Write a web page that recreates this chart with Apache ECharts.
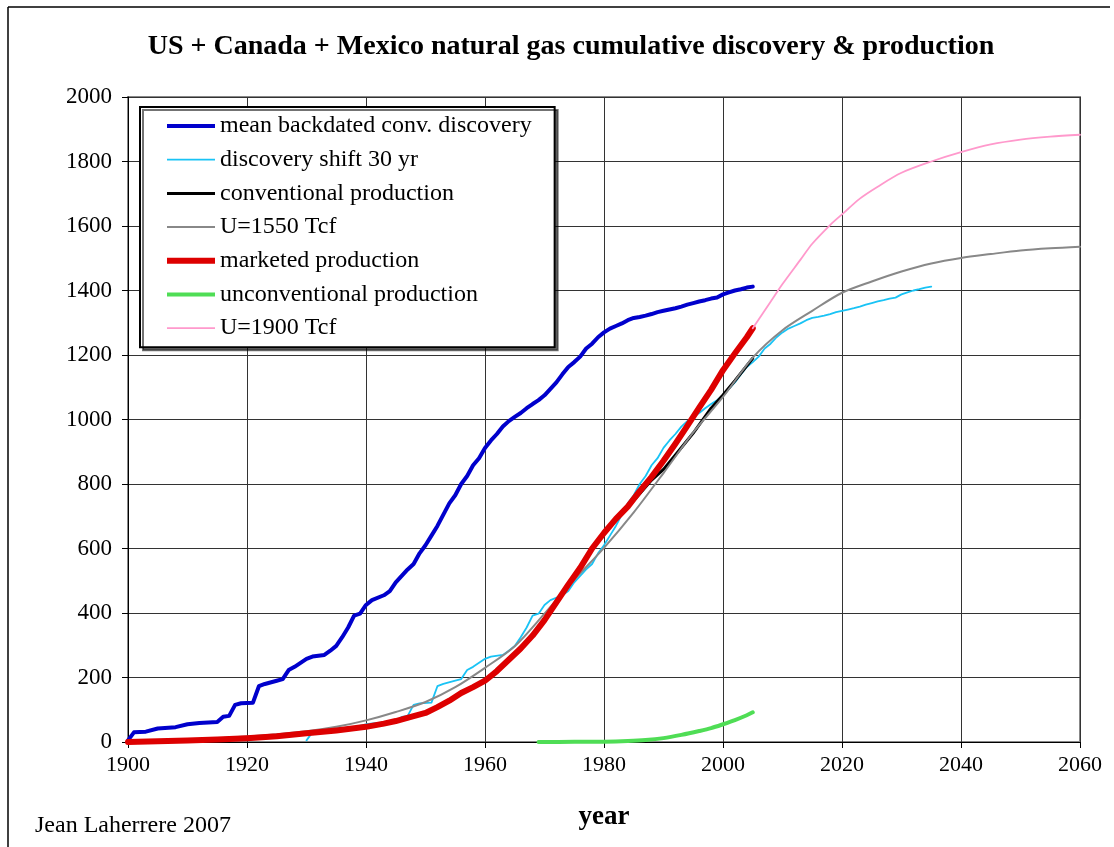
<!DOCTYPE html>
<html><head><meta charset="utf-8">
<script src="https://cdn.jsdelivr.net/npm/echarts@6/dist/echarts.min.js"></script>
<style>html,body{margin:0;padding:0;background:#fff}#c{width:1114px;height:847px}</style>
</head><body><div id="c"></div>
<script>
const xTicks = [1900,1920,1940,1960,1980,2000,2020,2040,2060];
const yTicks = [0,200,400,600,800,1000,1200,1400,1600,1800,2000];

const discYears = [1900,1901,1903,1905,1908,1910,1912,1915,1916,1917,1918,1919,1921,1922,1923,1925,1926,1927,1928,1930,1931,1933,1934,1935,1936,1937,1938,1939,1940,1941,1943,1944,1945,1946,1947,1948,1949,1950,1951,1952,1953,1954,1955,1956,1957,1958,1959,1960,1961,1962,1963,1964,1965,1966,1967,1968,1969,1970,1971,1972,1973,1974,1975,1976,1977,1978,1979,1980,1981,1982,1983,1984,1985,1986,1987,1988,1989,1990,1991,1992,1993,1994,1995,1996,1997,1998,1999,2000,2001,2002,2003,2004,2005];
const discValues = [5,30,32,42,46,55,59,62,78,81,115,120,122,173,180,190,195,223,233,258,265,270,283,298,325,355,392,398,425,440,455,468,495,515,535,552,585,610,640,670,705,740,765,800,825,858,880,912,935,955,978,995,1008,1020,1035,1048,1060,1075,1095,1115,1140,1163,1178,1195,1220,1235,1255,1270,1282,1290,1298,1308,1315,1318,1322,1327,1333,1337,1341,1345,1350,1356,1361,1366,1370,1375,1378,1388,1394,1400,1404,1409,1412];

const shiftYears = [1930,1931,1933,1935,1938,1940,1942,1945,1946,1947,1948,1949,1951,1952,1953,1955,1956,1957,1958,1960,1961,1963,1964,1965,1966,1967,1968,1969,1970,1971,1973,1974,1975,1976,1977,1978,1979,1980,1981,1982,1983,1984,1985,1986,1987,1988,1989,1990,1991,1992,1993,1994,1995,1996,1997,1998,1999,2000,2001,2002,2003,2004,2005,2006,2007,2008,2009,2010,2011,2012,2013,2014,2015,2016,2017,2018,2019,2020,2021,2022,2023,2024,2025,2026,2027,2028,2029,2030,2031,2032,2033,2034,2035];
const shiftValues = [5,30,32,42,46,55,59,62,78,81,115,120,122,173,180,190,195,223,233,258,265,270,283,298,325,355,392,398,425,440,455,468,495,515,535,552,585,610,640,670,705,740,765,800,825,858,880,912,935,955,978,995,1008,1020,1035,1048,1060,1075,1095,1115,1140,1163,1178,1195,1220,1235,1255,1270,1282,1290,1298,1308,1315,1318,1322,1327,1333,1337,1341,1345,1350,1356,1361,1366,1370,1375,1378,1388,1394,1400,1404,1409,1412];

const convYears = [1900,1905,1910,1915,1920,1925,1930,1935,1940,1943,1945,1948,1950,1952,1954,1956,1958,1960,1962,1964,1966,1968,1970,1972,1974,1976,1978,1980,1982,1984,1986,1988,1990,1992,1995,1998,2000,2002,2005];
const convValues = [0,2,5,8,12,18,27,36,47,57,65,80,90,108,128,152,170,190,220,255,290,330,378,433,488,540,600,647,690,728,770,812,845,890,958,1035,1076,1120,1190];

const u1550Years = [1900,1905,1910,1915,1920,1925,1930,1935,1940,1945,1950,1955,1960,1965,1970,1975,1980,1985,1990,1995,2000,2005,2010,2015,2020,2025,2030,2035,2040,2045,2050,2055,2060];
const u1550Values = [3,5,8,12,17,24,33,47,67,93,124,170,230,297,398,503,602,712,834,960,1070,1192,1277,1337,1393,1428,1459,1484,1501,1513,1524,1531,1536];

const mktYears = [1900,1905,1910,1915,1920,1925,1930,1935,1940,1943,1945,1948,1950,1952,1954,1956,1958,1960,1962,1964,1966,1968,1970,1972,1974,1976,1978,1980,1982,1984,1986,1988,1990,1992,1994,1996,1998,2000,2002,2004,2005];
const mktValues = [0,2,5,8,12,18,27,36,47,57,65,80,90,108,128,152,170,190,220,255,290,330,378,433,488,540,600,648,692,730,778,822,872,925,980,1037,1092,1153,1205,1255,1283];

const unconvYears = [1969,1975,1980,1984,1987,1990,1993,1996,1998,2000,2002,2004,2005];
const unconvValues = [0,0.5,1,3,6,12,22,34,43,55,68,83,92];

const u1900Years = [2005,2008,2010,2013,2015,2018,2020,2023,2026,2030,2035,2040,2045,2050,2055,2060];
const u1900Values = [1283,1365,1420,1495,1545,1603,1636,1685,1722,1765,1800,1829,1853,1868,1877,1883];

const names = ['mean backdated conv. discovery','discovery shift 30 yr','conventional production','U=1550 Tcf','marketed production','unconventional production','U=1900 Tcf'];
const colors = ['#0000CC','#19C3F5','#000000','#888888','#DD0000','#4FDD55','#FF99CC'];
const widths = [4,1.8,3,2,6,4,1.8];

function pairs(xs, ys){ return xs.map((x,i)=>[x, ys[i]]); }
function mk(i, xs, ys, smooth){
  return {name:names[i], type:'line', data:pairs(xs,ys), symbol:'none', smooth: smooth||false,
    lineStyle:{color:colors[i], width:widths[i], cap:'round', join:'round'}, itemStyle:{color:colors[i]}, animation:false};
}

const chart = echarts.init(document.getElementById('c'), null, {renderer:'canvas'});
const serif = 'Liberation Serif, Times New Roman, serif';
chart.setOption({
  backgroundColor:'#fff',
  animation:false,
  title:{text:'US + Canada + Mexico natural gas cumulative discovery & production', left:566, textAlign:'center', top:28,
    textStyle:{fontFamily:serif, fontSize:28, fontWeight:'bold', color:'#000'}},
  grid:{left:128, top:97, right:34, bottom:105, show:true, borderColor:'#888', borderWidth:2, backgroundColor:'transparent'},
  legend:{orient:'vertical', left:140, top:107, itemWidth:48, itemHeight:10, itemGap:9.7,
    padding:[7,23,7,24], backgroundColor:'#fff', borderColor:'#000', borderWidth:2,
    shadowColor:'rgba(0,0,0,0.55)', shadowOffsetX:3, shadowOffsetY:3, shadowBlur:0,
    itemStyle:{opacity:0},
    textStyle:{fontFamily:serif, fontSize:24, lineHeight:24, color:'#000'},
    data:names.map((n,i)=>({name:n, lineStyle:{color:colors[i], width:widths[i], cap:'butt'}}))},
  xAxis:{type:'value', min:1900, max:2060, interval:20,
    name:'year', nameLocation:'middle', nameGap:62,
    nameTextStyle:{fontFamily:serif, fontSize:27, fontWeight:'bold', color:'#000'},
    axisLine:{show:true, lineStyle:{color:'#000', width:1}},
    axisTick:{show:true, length:6, lineStyle:{color:'#000'}},
    axisLabel:{fontFamily:serif, fontSize:22, color:'#000', margin:12, formatter:v=>String(v)},
    splitLine:{show:true, lineStyle:{color:'#333', width:1}}},
  yAxis:{type:'value', min:0, max:2000, interval:200,
    axisLine:{show:true, lineStyle:{color:'#000', width:1}},
    axisTick:{show:true, length:6, lineStyle:{color:'#000'}},
    axisLabel:{fontFamily:serif, fontSize:23, color:'#000', margin:16, formatter:v=>String(v)},
    splitLine:{show:true, lineStyle:{color:'#333', width:1}}},
  graphic:[
    {type:'line', shape:{x1:8,y1:7,x2:1110,y2:7}, style:{stroke:'#000', lineWidth:1.5}, silent:true},
    {type:'line', shape:{x1:8,y1:7,x2:8,y2:847}, style:{stroke:'#000', lineWidth:1.5}, silent:true},
    {type:'text', left:35, top:814, style:{text:'Jean Laherrere 2007', font:'24px '+serif, fill:'#000'}}
  ],
  series:[
    mk(0, discYears, discValues),
    mk(1, shiftYears, shiftValues),
    mk(2, convYears, convValues),
    mk(3, u1550Years, u1550Values, 0.3),
    mk(4, mktYears, mktValues),
    mk(5, unconvYears, unconvValues, 0.3),
    mk(6, u1900Years, u1900Values, 0.3)
  ]
});
</script></body></html>
